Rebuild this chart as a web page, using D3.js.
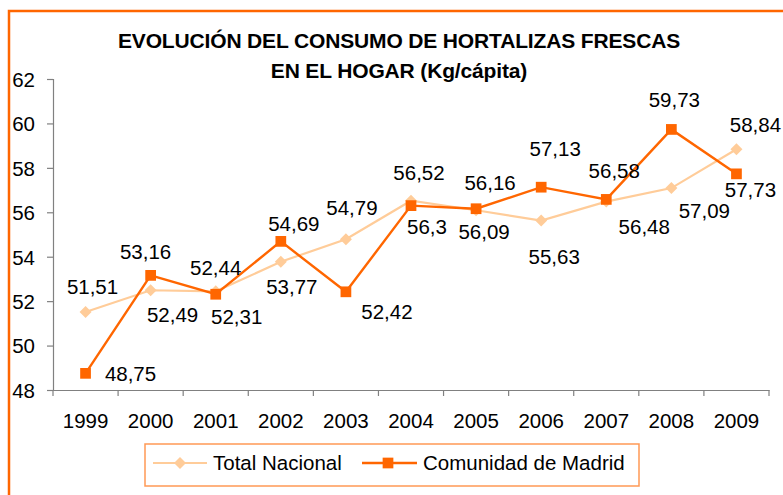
<!DOCTYPE html>
<html>
<head>
<meta charset="utf-8">
<script src="https://cdn.jsdelivr.net/npm/d3@7"></script>
<style>
  html, body { margin: 0; padding: 0; background: #fff; }
  svg { display: block; }
  text { font-family: "Liberation Sans", Arial, sans-serif; fill: #000; }
</style>
</head>
<body>
<svg id="chart" width="783" height="495"></svg>
<script>
// ---- data ----
const years = ["1999","2000","2001","2002","2003","2004","2005","2006","2007","2008","2009"];
const totalNacional = [51.51, 52.49, 52.44, 53.77, 54.79, 56.52, 56.09, 55.63, 56.48, 57.09, 58.84];
const comunidadMadrid = [48.75, 53.16, 52.31, 54.69, 52.42, 56.3, 56.16, 57.13, 56.58, 59.73, 57.73];
const yTicks = [48, 50, 52, 54, 56, 58, 60, 62];
const seriesNames = ["Total Nacional", "Comunidad de Madrid"];
const titleLines = ["EVOLUCIÓN DEL CONSUMO DE HORTALIZAS FRESCAS", "EN EL HOGAR (Kg/cápita)"];

// label offsets (layout, px) relative to each point
const totalLabelOffsets = [[7,-25],[22,24],[0,-24],[11,25],[6,-32],[8,-28],[8,21],[13,36],[38,25],[33,23],[19,-25]];
const madridLabelOffsets = [[45,0],[-5,-24],[21,22],[13,-18],[41,20],[16,21],[14,-26],[14,-39],[8,-29],[3,-30],[14,16]];

const fmt = v => String(v).replace(".", ",");

const svg = d3.select("#chart");
const mLeft = 53, mRight = 769, mTop = 79, mBottom = 390;

const x = d3.scaleBand().domain(years).range([mLeft, mRight]).padding(0);
const y = d3.scaleLinear().domain([48, 62]).range([mBottom, mTop]);

// frame
svg.append("rect").attr("x", 9).attr("y", 11).attr("width", 800).attr("height", 500)
  .attr("fill", "none").attr("stroke", "#FF6600").attr("stroke-width", 2.5);

// title
svg.selectAll("text.title").data(titleLines).enter().append("text")
  .attr("class", "title")
  .attr("x", 399).attr("y", (d, i) => 48 + i * 30)
  .attr("text-anchor", "middle")
  .style("font-weight", "bold").style("font-size", "21px").style("letter-spacing", "-0.15px")
  .text(d => d);

// y axis
const yAxis = d3.axisLeft(y).tickValues(yTicks).tickSize(6).tickPadding(12).tickFormat(d => d);
const gy = svg.append("g").attr("transform", `translate(${mLeft},0)`).call(yAxis);
gy.select(".domain").attr("stroke", "#808080").attr("stroke-width", 1.2);
gy.selectAll(".tick line").attr("stroke", "#808080").attr("stroke-width", 1.2);
gy.selectAll(".tick text").style("font-size", "20.5px").style("font-family", "Liberation Sans, Arial, sans-serif").attr("fill", "#000").attr("dy", "0.36em");

// x axis
const xAxis = d3.axisBottom(x).tickSize(0).tickPadding(0).tickFormat(d => d);
const gx = svg.append("g").attr("transform", `translate(0,${mBottom})`).call(xAxis);
gx.select(".domain").attr("stroke", "#808080").attr("stroke-width", 1.2);
gx.selectAll(".tick text").style("font-size", "20.5px").style("font-family", "Liberation Sans, Arial, sans-serif")
  .attr("fill", "#000").attr("y", 38).attr("dy", 0);
// category boundary ticks
const bounds = years.map(d => x(d)).concat([x(years[years.length - 1]) + x.bandwidth()]);
svg.append("g").selectAll("line").data(bounds).enter().append("line")
  .attr("x1", d => d).attr("x2", d => d).attr("y1", mBottom).attr("y2", mBottom + 6)
  .attr("stroke", "#808080").attr("stroke-width", 1.2);

const cx = d => x(d) + x.bandwidth() / 2;
const line = d3.line().x((d, i) => cx(years[i])).y(d => y(d));

const colTotal = "#FFCC99", colMadrid = "#FF6600";
const diamond = d3.symbol().type(d3.symbolSquare).size(72);
const square = d3.symbol().type(d3.symbolSquare).size(115);

// Total Nacional
svg.append("path").datum(totalNacional).attr("d", line)
  .attr("fill", "none").attr("stroke", colTotal).attr("stroke-width", 2.2);
svg.append("g").selectAll("path").data(totalNacional).enter().append("path")
  .attr("d", diamond)
  .attr("transform", (d, i) => `translate(${cx(years[i])},${y(d)}) rotate(45)`)
  .attr("fill", colTotal);

// Comunidad de Madrid
svg.append("path").datum(comunidadMadrid).attr("d", line)
  .attr("fill", "none").attr("stroke", colMadrid).attr("stroke-width", 2.4);
svg.append("g").selectAll("path").data(comunidadMadrid).enter().append("path")
  .attr("d", square)
  .attr("transform", (d, i) => `translate(${cx(years[i])},${y(d)})`)
  .attr("fill", colMadrid);

// data labels
function labels(vals, offs) {
  svg.append("g").selectAll("text").data(vals).enter().append("text")
    .attr("x", (d, i) => cx(years[i]) + offs[i][0])
    .attr("y", (d, i) => y(d) + offs[i][1])
    .attr("dy", "0.36em")
    .attr("text-anchor", "middle")
    .style("font-size", "20.5px")
    .text(d => fmt(d));
}
labels(totalNacional, totalLabelOffsets);
labels(comunidadMadrid, madridLabelOffsets);

// legend
const lg = svg.append("g");
lg.append("rect").attr("x", 145).attr("y", 444).attr("width", 494).attr("height", 42)
  .attr("fill", "#fff").attr("stroke", "#FF9955").attr("stroke-width", 1.5);
const ly = 463;
// item 1
lg.append("line").attr("x1", 153).attr("x2", 207).attr("y1", ly).attr("y2", ly)
  .attr("stroke", colTotal).attr("stroke-width", 2.2);
lg.append("path").attr("d", diamond).attr("transform", `translate(180,${ly}) rotate(45)`).attr("fill", colTotal);
lg.append("text").attr("x", 213).attr("y", ly).attr("dy", "0.36em").style("font-size", "20.5px").text(seriesNames[0]);
// item 2
lg.append("line").attr("x1", 362).attr("x2", 417).attr("y1", ly).attr("y2", ly)
  .attr("stroke", colMadrid).attr("stroke-width", 2.4);
lg.append("path").attr("d", square).attr("transform", `translate(388,${ly})`).attr("fill", colMadrid);
lg.append("text").attr("x", 423).attr("y", ly).attr("dy", "0.36em").style("font-size", "20.5px").text(seriesNames[1]);
</script>
</body>
</html>
